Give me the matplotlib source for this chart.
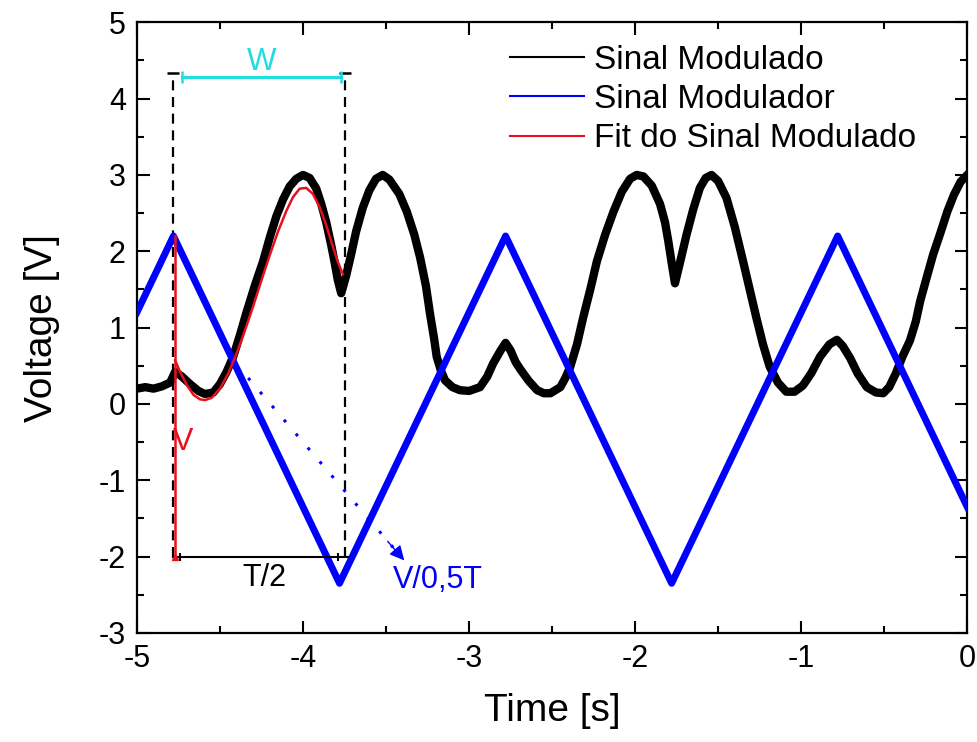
import matplotlib
matplotlib.use("Agg")
import matplotlib.pyplot as plt
from matplotlib.ticker import MultipleLocator

plt.rcParams['font.family'] = ['Liberation Sans', 'DejaVu Sans']
plt.rcParams['axes.unicode_minus'] = False

# Modulated signal (black)
mod_t = [-5.00, -4.95, -4.90, -4.85, -4.80, -4.77, -4.73, -4.68, -4.63, -4.59,
         -4.54, -4.50, -4.46, -4.42, -4.38, -4.34, -4.29, -4.24, -4.20, -4.16,
         -4.12, -4.08, -4.04, -4.00, -3.96, -3.92, -3.89, -3.86, -3.83, -3.81,
         -3.79, -3.77, -3.74, -3.71, -3.68, -3.64, -3.60, -3.56, -3.52, -3.48,
         -3.42, -3.375, -3.33, -3.295, -3.26, -3.235, -3.21, -3.195, -3.17, -3.145,
         -3.10, -3.055, -3.00, -2.934, -2.89, -2.855, -2.81, -2.78, -2.75, -2.72,
         -2.69, -2.64, -2.59, -2.55, -2.51, -2.45, -2.42, -2.39, -2.35, -2.313,
         -2.27, -2.23, -2.18, -2.13, -2.08, -2.03, -1.99, -1.95, -1.90, -1.85,
         -1.82, -1.80, -1.78, -1.76, -1.73, -1.69, -1.65, -1.61, -1.575, -1.54,
         -1.50, -1.45, -1.40, -1.35, -1.31, -1.27, -1.23, -1.19, -1.14, -1.09,
         -1.04, -0.99, -0.94, -0.886, -0.83, -0.785, -0.75, -0.705, -0.66, -0.605,
         -0.55, -0.506, -0.47, -0.43, -0.39, -0.345, -0.31, -0.283, -0.245, -0.205,
         -0.16, -0.12, -0.08, -0.04, 0.00]
mod_v = [0.20, 0.22, 0.20, 0.23, 0.28, 0.42, 0.36, 0.26, 0.17, 0.13,
         0.15, 0.26, 0.42, 0.62, 0.90, 1.20, 1.55, 1.87, 2.18, 2.46,
         2.68, 2.85, 2.95, 3.00, 2.96, 2.82, 2.62, 2.38, 2.08, 1.86,
         1.62, 1.45, 1.68, 1.96, 2.26, 2.57, 2.80, 2.95, 3.00, 2.94,
         2.75, 2.52, 2.22, 1.92, 1.55, 1.18, 0.85, 0.62, 0.44, 0.31,
         0.22, 0.18, 0.17, 0.22, 0.36, 0.53, 0.70, 0.80, 0.70, 0.55,
         0.45, 0.30, 0.18, 0.14, 0.14, 0.22, 0.34, 0.49, 0.78, 1.13,
         1.50, 1.87, 2.22, 2.52, 2.78, 2.95, 3.00, 2.98, 2.86, 2.62,
         2.38, 2.13, 1.85, 1.58, 1.85, 2.22, 2.55, 2.83, 2.96, 3.00,
         2.92, 2.70, 2.32, 1.87, 1.50, 1.13, 0.78, 0.49, 0.28, 0.16,
         0.16, 0.24, 0.40, 0.62, 0.78, 0.84, 0.76, 0.60, 0.40, 0.22,
         0.15, 0.14, 0.22, 0.40, 0.62, 0.83, 1.08, 1.35, 1.65, 1.96,
         2.25, 2.52, 2.74, 2.91, 3.00]

# Modulating signal (blue triangle sweep)
sweep_t = [-5.00, -4.78, -3.78, -2.78, -1.78, -0.78, 0.00]
sweep_v = [1.20, 2.20, -2.35, 2.20, -2.35, 2.20, -1.35]

# Fit of the modulated signal (red)
fit_t = [-4.77, -4.74, -4.70, -4.66, -4.62, -4.59, -4.55, -4.50, -4.45, -4.40,
         -4.35, -4.30, -4.25, -4.20, -4.15, -4.10, -4.06, -4.02, -3.98, -3.94,
         -3.90, -3.86, -3.82, -3.79, -3.76]
fit_v = [0.57, 0.42, 0.25, 0.12, 0.06, 0.05, 0.08, 0.20, 0.40, 0.66,
         0.96, 1.28, 1.62, 1.95, 2.26, 2.53, 2.71, 2.82, 2.83, 2.75,
         2.58, 2.34, 2.06, 1.86, 1.70]

# Annotation geometry (data coordinates)
t_left, t_right = -4.78, -3.75
v_top, v_bottom = 4.34, -2.0
w_y, w_x0, w_x1 = 4.28, -4.73, -3.77
amp_top = 2.20
arrow_start = (-4.33, 0.34)
arrow_end = (-3.39, -2.05)

CYAN = '#22dde0'
BLUE = '#0000ff'
RED = '#e8101a'

fig = plt.figure(figsize=(9.78, 7.42), dpi=100)
ax = fig.add_axes([0.140, 0.147, 0.849, 0.823])

ax.plot(mod_t, mod_v, color='black', lw=6.0, zorder=3)
ax.plot(sweep_t, sweep_v, color=BLUE, lw=5.0, zorder=4)
ax.plot(fit_t, fit_v, color=RED, lw=1.8, zorder=5)

# legend handles
ax.plot([], [], color='black', lw=1.5, label='Sinal Modulado')
ax.plot([], [], color=BLUE, lw=1.5, label='Sinal Modulador')
ax.plot([], [], color=RED, lw=1.5, label='Fit do Sinal Modulado')

# dashed guides with caps
for tx in (t_left, t_right):
    ax.plot([tx, tx], [v_bottom, v_top], color='black', lw=1.6,
            linestyle=(0, (4.5, 3)), zorder=2)
    ax.plot([tx], [v_top], marker='_', ms=8, mew=1.8, color='black', zorder=2)

# W bracket
ax.plot([w_x0, w_x1], [w_y, w_y], color=CYAN, lw=2.2, zorder=6)
ax.plot([w_x0, w_x1], [w_y, w_y], ls='none', marker='|', ms=8, mew=1.8,
        color=CYAN, zorder=6)
ax.text((w_x0 + w_x1) / 2, w_y + 0.0, 'W', color=CYAN, fontsize=22.5,
        ha='center', va='bottom')

# T/2 bracket
ax.plot([t_left, -3.72], [v_bottom, v_bottom], color='black', lw=1.5, zorder=6)
ax.plot([-4.74, -3.79], [v_bottom, v_bottom], ls='none', marker='|', ms=6,
        mew=1.5, color='black', zorder=6)
ax.text(-4.23, -2.28, 'T/2', color='black', fontsize=22, ha='center', va='center')

# amplitude V
ax.plot([t_left + 0.01, t_left + 0.01], [v_bottom, amp_top], color=RED,
        lw=1.8, zorder=6)
ax.plot([t_left + 0.01], [v_bottom], marker='^', ms=5, color=RED, zorder=6)
ax.text(-4.72, -0.5, 'V', color=RED, fontsize=22, ha='center', va='center')

# slope arrow
ax.plot([arrow_start[0], arrow_end[0] - 0.04], [arrow_start[1], arrow_end[1] + 0.1],
        color=BLUE, lw=2.2, linestyle=(0, (1, 5)), zorder=6)
ax.annotate('', xy=arrow_end, xytext=(arrow_end[0] - 0.1, arrow_end[1] + 0.25),
            arrowprops=dict(arrowstyle='-|>', mutation_scale=22, color=BLUE,
                            lw=1.0, shrinkA=0, shrinkB=0), zorder=6)
ax.text(-3.46, -2.31, 'V/0,5T', color=BLUE, fontsize=22, ha='left', va='center')

ax.set_xlim(-5, 0)
ax.set_ylim(-3, 5)
ax.xaxis.set_major_locator(MultipleLocator(1))
ax.xaxis.set_minor_locator(MultipleLocator(0.5))
ax.yaxis.set_major_locator(MultipleLocator(1))
ax.yaxis.set_minor_locator(MultipleLocator(0.5))
ax.tick_params(which='both', direction='in', top=True, right=True, width=1.5,
               labelsize=22, pad=8)
ax.tick_params(which='major', length=9)
ax.tick_params(which='minor', length=5)
for s in ax.spines.values():
    s.set_linewidth(1.6)

ax.set_xlabel('Time [s]', fontsize=28, labelpad=14)
ax.set_ylabel('Voltage [V]', fontsize=28, labelpad=28)

leg = ax.legend(loc='upper right', bbox_to_anchor=(0.954, 0.985), frameon=False,
                fontsize=24, handlelength=2.2, handletextpad=0.3,
                labelspacing=0.25, borderaxespad=0.0)

fig.savefig('out.png', dpi=100)
